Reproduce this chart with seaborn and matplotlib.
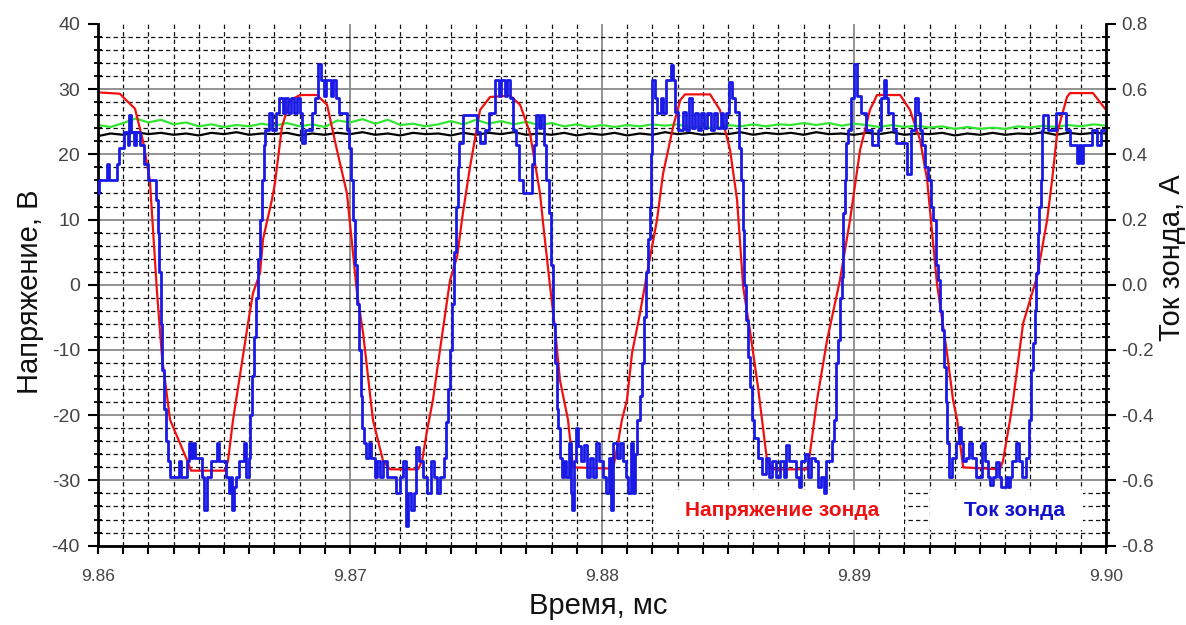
import matplotlib
matplotlib.use("Agg")
import matplotlib.pyplot as plt
from matplotlib.ticker import MultipleLocator
from matplotlib.patches import Rectangle
import seaborn as sns

# --- probe voltage (V), red trace ---
t_volt = [9.86000, 9.86087, 9.86107, 9.86147, 9.86179, 9.86206, 9.86234, 9.86254,
          9.86286, 9.86357, 9.86369, 9.86504, 9.86516, 9.86536, 9.86563, 9.86595,
          9.86615, 9.86643, 9.86655, 9.86690, 9.86702, 9.86730, 9.86762, 9.86802,
          9.86869, 9.86909, 9.86948, 9.86988, 9.87028, 9.87052, 9.87091, 9.87131,
          9.87159, 9.87270, 9.87286, 9.87306, 9.87329, 9.87357, 9.87397, 9.87425,
          9.87448, 9.87476, 9.87516, 9.87556, 9.87635, 9.87675, 9.87714, 9.87754,
          9.87766, 9.87794, 9.87813, 9.87833, 9.87865, 9.87885, 9.88044, 9.88063,
          9.88079, 9.88099, 9.88119, 9.88151, 9.88179, 9.88218, 9.88242, 9.88282,
          9.88310, 9.88329, 9.88429, 9.88468, 9.88508, 9.88536, 9.88560, 9.88587,
          9.88619, 9.88655, 9.88675, 9.88814, 9.88821, 9.88853, 9.88893, 9.88944,
          9.88984, 9.89024, 9.89063, 9.89091, 9.89183, 9.89222, 9.89262, 9.89290,
          9.89329, 9.89369, 9.89393, 9.89409, 9.89433, 9.89579, 9.89591, 9.89619,
          9.89631, 9.89671, 9.89726, 9.89766, 9.89786, 9.89806, 9.89845, 9.89857,
          9.89948, 9.90000]
volt = [29.5, 29.3, 28.5, 27.0, 22.0, 16.0, -1.0, -11.0,
        -20.7, -27.2, -28.5, -28.5, -27.0, -20.7, -14.0, -6.0,
        -1.3, 1.8, 7.0, 13.0, 15.5, 24.2, 28.3, 29.1,
        29.1, 27.6, 20.7, 14.0, -1.3, -7.4, -20.7, -27.0,
        -28.3, -28.3, -27.0, -22.3, -17.7, -10.0, 0.7, 4.3,
        11.0, 18.0, 26.8, 28.8, 29.0, 27.6, 23.3, 14.0,
        9.5, -0.3, -6.5, -14.6, -20.7, -28.0, -28.2, -24.3,
        -20.7, -17.7, -10.5, -4.3, 1.8, 9.9, 17.0, 24.2,
        28.3, 29.2, 29.2, 26.8, 20.7, 13.0, -0.3, -7.0,
        -15.7, -27.0, -28.3, -28.3, -27.0, -17.7, -8.5, 0.7,
        9.9, 20.7, 26.8, 29.1, 29.1, 26.8, 22.2, 16.1,
        0.2, -10.5, -17.7, -20.7, -28.0, -28.3, -27.0, -20.7,
        -17.7, -5.9, 1.2, 9.9, 16.1, 23.3, 28.8, 29.4,
        29.4, 26.8]

# --- probe current (A), blue trace, quantised steps ---
t_cur = [9.86000, 9.86004, 9.86036, 9.86044, 9.86075, 9.86083, 9.86103, 9.86119,
         9.86123, 9.86131, 9.86143, 9.86151, 9.86167, 9.86183, 9.86198, 9.86230,
         9.86238, 9.86244, 9.86250, 9.86256, 9.86262, 9.86270, 9.86278, 9.86286,
         9.86321, 9.86329, 9.86353, 9.86361, 9.86369, 9.86377, 9.86385, 9.86413,
         9.86421, 9.86433, 9.86448, 9.86472, 9.86480, 9.86508, 9.86520, 9.86528,
         9.86532, 9.86540, 9.86548, 9.86560, 9.86579, 9.86587, 9.86599, 9.86605,
         9.86611, 9.86619, 9.86627, 9.86635, 9.86643, 9.86651, 9.86657, 9.86663,
         9.86679, 9.86690, 9.86706, 9.86718, 9.86734, 9.86742, 9.86754, 9.86766,
         9.86778, 9.86790, 9.86802, 9.86810, 9.86821, 9.86849, 9.86861, 9.86873,
         9.86885, 9.86897, 9.86905, 9.86925, 9.86933, 9.86944, 9.86956, 9.86988,
         9.86996, 9.87004, 9.87012, 9.87020, 9.87028, 9.87036, 9.87042, 9.87048,
         9.87056, 9.87063, 9.87075, 9.87083, 9.87099, 9.87107, 9.87119, 9.87131,
         9.87147, 9.87183, 9.87198, 9.87210, 9.87222, 9.87230, 9.87242, 9.87254,
         9.87262, 9.87274, 9.87290, 9.87306, 9.87321, 9.87333, 9.87345, 9.87357,
         9.87373, 9.87381, 9.87389, 9.87397, 9.87405, 9.87413, 9.87421, 9.87429,
         9.87433, 9.87448, 9.87504, 9.87516, 9.87536, 9.87552, 9.87575, 9.87591,
         9.87599, 9.87615, 9.87623, 9.87635, 9.87647, 9.87659, 9.87671, 9.87687,
         9.87722, 9.87730, 9.87738, 9.87750, 9.87758, 9.87770, 9.87778, 9.87790,
         9.87798, 9.87806, 9.87813, 9.87821, 9.87825, 9.87833, 9.87841, 9.87849,
         9.87857, 9.87869, 9.87877, 9.87881, 9.87889, 9.87897, 9.87905, 9.87917,
         9.87929, 9.87940, 9.87952, 9.87964, 9.87976, 9.87988, 9.88004, 9.88016,
         9.88028, 9.88036, 9.88044, 9.88060, 9.88071, 9.88083, 9.88095, 9.88103,
         9.88115, 9.88123, 9.88131, 9.88139, 9.88151, 9.88159, 9.88167, 9.88175,
         9.88183, 9.88190, 9.88194, 9.88198, 9.88210, 9.88218, 9.88234, 9.88242,
         9.88254, 9.88274, 9.88282, 9.88290, 9.88302, 9.88321, 9.88333, 9.88345,
         9.88357, 9.88369, 9.88381, 9.88393, 9.88405, 9.88417, 9.88433, 9.88444,
         9.88456, 9.88472, 9.88480, 9.88492, 9.88504, 9.88516, 9.88528, 9.88544,
         9.88552, 9.88560, 9.88565, 9.88571, 9.88579, 9.88587, 9.88595, 9.88603,
         9.88619, 9.88635, 9.88651, 9.88663, 9.88675, 9.88690, 9.88706, 9.88722,
         9.88730, 9.88742, 9.88770, 9.88782, 9.88790, 9.88806, 9.88817, 9.88829,
         9.88845, 9.88857, 9.88869, 9.88881, 9.88889, 9.88913, 9.88921, 9.88929,
         9.88937, 9.88944, 9.88952, 9.88956, 9.88964, 9.88968, 9.88976, 9.88988,
         9.89000, 9.89012, 9.89028, 9.89048, 9.89071, 9.89095, 9.89107, 9.89119,
         9.89127, 9.89135, 9.89155, 9.89167, 9.89210, 9.89226, 9.89242, 9.89254,
         9.89262, 9.89270, 9.89282, 9.89294, 9.89306, 9.89313, 9.89325, 9.89333,
         9.89341, 9.89349, 9.89357, 9.89365, 9.89369, 9.89377, 9.89389, 9.89405,
         9.89417, 9.89425, 9.89433, 9.89444, 9.89456, 9.89468, 9.89484, 9.89508,
         9.89520, 9.89532, 9.89540, 9.89552, 9.89563, 9.89575, 9.89583, 9.89603,
         9.89611, 9.89619, 9.89627, 9.89643, 9.89655, 9.89667, 9.89683, 9.89694,
         9.89702, 9.89710, 9.89718, 9.89722, 9.89730, 9.89734, 9.89742, 9.89746,
         9.89750, 9.89770, 9.89802, 9.89841, 9.89857, 9.89885, 9.89893, 9.89901,
         9.89909, 9.89944, 9.89964, 9.89980, 9.90000]
cur = [0.280, 0.320, 0.370, 0.320, 0.370, 0.420, 0.470, 0.430,
       0.520, 0.470, 0.430, 0.470, 0.430, 0.370, 0.320, 0.260,
       0.160, 0.040, -0.120, -0.260, -0.380, -0.480, -0.540, -0.588,
       -0.540, -0.588, -0.540, -0.486, -0.530, -0.486, -0.530, -0.588,
       -0.690, -0.588, -0.540, -0.486, -0.540, -0.588, -0.640, -0.588,
       -0.690, -0.620, -0.588, -0.540, -0.486, -0.588, -0.530, -0.400,
       -0.280, -0.160, -0.040, 0.080, 0.200, 0.320, 0.430, 0.474,
       0.526, 0.474, 0.526, 0.572, 0.526, 0.572, 0.526, 0.572,
       0.526, 0.572, 0.526, 0.434, 0.474, 0.526, 0.572, 0.676,
       0.628, 0.580, 0.628, 0.580, 0.628, 0.572, 0.526, 0.474,
       0.420, 0.320, 0.200, 0.060, -0.060, -0.200, -0.340, -0.440,
       -0.486, -0.530, -0.486, -0.530, -0.588, -0.540, -0.588, -0.540,
       -0.588, -0.640, -0.588, -0.540, -0.740, -0.640, -0.690, -0.640,
       -0.498, -0.540, -0.588, -0.640, -0.540, -0.588, -0.640, -0.588,
       -0.530, -0.420, -0.320, -0.200, -0.060, 0.100, 0.240, 0.360,
       0.434, 0.522, 0.470, 0.434, 0.474, 0.526, 0.628, 0.580,
       0.628, 0.580, 0.628, 0.572, 0.474, 0.430, 0.320, 0.280,
       0.370, 0.430, 0.520, 0.480, 0.520, 0.430, 0.320, 0.220,
       0.060, -0.120, -0.240, -0.380, -0.440, -0.530, -0.588, -0.540,
       -0.588, -0.486, -0.640, -0.690, -0.540, -0.440, -0.494, -0.540,
       -0.490, -0.588, -0.530, -0.588, -0.486, -0.540, -0.588, -0.640,
       -0.530, -0.690, -0.486, -0.530, -0.486, -0.540, -0.588, -0.640,
       -0.486, -0.640, -0.520, -0.414, -0.340, -0.240, -0.100, 0.040,
       0.140, 0.240, 0.400, 0.628, 0.572, 0.526, 0.572, 0.526,
       0.628, 0.674, 0.628, 0.530, 0.474, 0.530, 0.474, 0.572,
       0.480, 0.526, 0.474, 0.526, 0.480, 0.526, 0.474, 0.526,
       0.480, 0.526, 0.480, 0.526, 0.622, 0.572, 0.530, 0.420,
       0.320, 0.168, 0.000, -0.108, -0.220, -0.314, -0.414, -0.470,
       -0.532, -0.580, -0.530, -0.588, -0.540, -0.588, -0.540, -0.588,
       -0.492, -0.540, -0.588, -0.620, -0.540, -0.520, -0.588, -0.530,
       -0.540, -0.620, -0.588, -0.640, -0.540, -0.480, -0.414, -0.240,
       -0.170, -0.040, 0.024, 0.220, 0.320, 0.434, 0.474, 0.572,
       0.676, 0.580, 0.526, 0.474, 0.428, 0.474, 0.572, 0.628,
       0.572, 0.526, 0.474, 0.434, 0.340, 0.474, 0.572, 0.526,
       0.474, 0.430, 0.360, 0.320, 0.240, 0.198, 0.060, 0.014,
       -0.080, -0.140, -0.252, -0.360, -0.486, -0.588, -0.530, -0.486,
       -0.436, -0.486, -0.540, -0.530, -0.486, -0.530, -0.588, -0.486,
       -0.540, -0.588, -0.614, -0.588, -0.544, -0.588, -0.620, -0.588,
       -0.620, -0.588, -0.540, -0.486, -0.540, -0.588, -0.530, -0.414,
       -0.260, -0.180, -0.078, 0.036, 0.158, 0.240, 0.320, 0.474,
       0.520, 0.474, 0.526, 0.474, 0.430, 0.374, 0.430, 0.374,
       0.430, 0.474, 0.430, 0.474, 0.474]

# --- two nearly flat reference traces (V) ---
t_ref = [9.8600, 9.8605, 9.8610, 9.8615, 9.8620, 9.8625, 9.8630, 9.8635, 9.8640,
         9.8645, 9.8650, 9.8655, 9.8660, 9.8665, 9.8670, 9.8675, 9.8680, 9.8685,
         9.8690, 9.8695, 9.8700, 9.8705, 9.8710, 9.8715, 9.8720, 9.8725, 9.8730,
         9.8735, 9.8740, 9.8745, 9.8750, 9.8755, 9.8760, 9.8765, 9.8770, 9.8775,
         9.8780, 9.8785, 9.8790, 9.8795, 9.8800, 9.8805, 9.8810, 9.8815, 9.8820,
         9.8825, 9.8830, 9.8835, 9.8840, 9.8845, 9.8850, 9.8855, 9.8860, 9.8865,
         9.8870, 9.8875, 9.8880, 9.8885, 9.8890, 9.8895, 9.8900, 9.8905, 9.8910,
         9.8915, 9.8920, 9.8925, 9.8930, 9.8935, 9.8940, 9.8945, 9.8950, 9.8955,
         9.8960, 9.8965, 9.8970, 9.8975, 9.8980, 9.8985, 9.8990, 9.8995, 9.9000]
green = [24.5, 24.2, 24.8, 25.5, 24.9, 25.3, 24.6, 24.9, 24.3,
         24.6, 24.2, 24.5, 24.3, 24.7, 24.4, 24.8, 24.3, 24.6,
         24.2, 25.2, 24.9, 25.4, 24.7, 25.3, 24.5, 24.7, 24.3,
         24.6, 25.1, 24.6, 25.3, 24.7, 25.1, 24.6, 25.0, 24.5,
         24.8, 24.3, 24.6, 24.2, 24.5, 24.2, 24.5, 24.3, 24.6,
         24.4, 24.6, 24.1, 24.3, 24.0, 24.5, 24.3, 24.6, 24.3,
         24.6, 24.5, 24.8, 24.5, 24.8, 24.4, 24.7, 24.5, 24.2,
         24.5, 24.2, 24.4, 24.1, 24.3, 23.9, 24.2, 23.9, 24.1,
         23.9, 24.3, 24.1, 24.4, 24.2, 24.5, 24.3, 24.6, 24.4]
black = [22.8, 23.2, 23.0, 23.4, 23.1, 23.3, 23.0, 23.2, 22.9,
         23.3, 23.1, 23.4, 23.0, 23.2, 23.1, 23.3, 22.9, 23.2,
         23.0, 23.3, 23.1, 23.4, 23.0, 23.2, 22.9, 23.3, 23.1,
         23.2, 22.9, 23.3, 23.0, 23.3, 23.1, 23.4, 23.0, 23.2,
         23.0, 23.3, 22.9, 23.2, 23.0, 23.3, 22.9, 23.2, 23.0,
         23.4, 23.1, 23.3, 23.0, 23.2, 23.1, 23.4, 23.0, 23.3,
         23.1, 23.3, 23.0, 23.4, 23.1, 23.2, 23.0, 23.3, 23.1,
         23.4, 23.0, 23.2, 23.1, 23.3, 22.9, 23.2, 23.0, 23.3,
         23.0, 23.2, 23.1, 23.4, 23.0, 23.3, 23.1, 23.3, 23.2]

x_ticks = [9.86, 9.87, 9.88, 9.89, 9.90]
x_labels = ["9.86", "9.87", "9.88", "9.89", "9.90"]
v_ticks = [-40, -30, -20, -10, 0, 10, 20, 30, 40]
a_ticks = [-0.8, -0.6, -0.4, -0.2, 0.0, 0.2, 0.4, 0.6, 0.8]

# style
sns.set_theme(style="white")
plt.rcParams["font.family"] = ["Liberation Sans", "DejaVu Sans"]
plt.rcParams["axes.unicode_minus"] = False

fig = plt.figure(figsize=(11.86, 6.25), dpi=100)
ax = fig.add_axes([0.0826, 0.127, 0.850, 0.8347])
ax2 = ax.twinx()

# traces
sns.lineplot(x=t_ref, y=green, ax=ax, color="#33e633", lw=1.6, estimator=None, sort=False, legend=False)
sns.lineplot(x=t_ref, y=black, ax=ax, color="black", lw=1.6, estimator=None, sort=False, legend=False)
sns.lineplot(x=t_volt, y=volt, ax=ax, color="#f01010", lw=1.6, estimator=None, sort=False, legend=False)
sns.lineplot(x=t_cur, y=cur, ax=ax2, color="#1a1ae6", lw=2.0, estimator=None, sort=False,
             legend=False, drawstyle="steps-post", zorder=3)

# axes limits & ticks
ax.set_xlim(9.86, 9.90)
ax.set_ylim(-40, 40)
ax2.set_ylim(-0.8, 0.8)
ax.set_xticks(x_ticks)
ax.set_xticklabels(x_labels)
ax.xaxis.set_minor_locator(MultipleLocator(0.001))
ax.set_yticks(v_ticks)
ax.yaxis.set_minor_locator(MultipleLocator(2))
ax2.set_yticks(a_ticks)
ax2.set_yticklabels([f"{a:.1f}" for a in a_ticks])
ax2.yaxis.set_minor_locator(MultipleLocator(0.04))
ax.set_xlabel("")
ax.set_ylabel("")
ax2.set_ylabel("")

# grid: solid grey majors, dashed black minors
ax.set_axisbelow(True)
ax.grid(which="major", color="#8a8a8a", lw=1.3, ls="-")
ax.grid(which="minor", color="#111111", lw=0.9, ls=(0, (3.5, 2.5)))
ax2.grid(False)
ax.yaxis.get_major_ticks()[-1].gridline.set_visible(False)

# spines
for s in ["top", "right"]:
    ax.spines[s].set_visible(False)
for s in ["top", "left", "bottom"]:
    ax2.spines[s].set_visible(False)
for s in ["left", "bottom"]:
    ax.spines[s].set_color("black")
    ax.spines[s].set_linewidth(2)
ax2.spines["right"].set_color("black")
ax2.spines["right"].set_linewidth(2)

tick_grey = "#444444"
ax.tick_params(axis="x", which="major", bottom=True, direction="out", length=6, width=1.5,
               color="black", labelsize=12.5, labelcolor=tick_grey, pad=11)
ax.tick_params(axis="x", which="minor", bottom=True, direction="out", length=6, width=1.5, color="black")
ax.tick_params(axis="y", which="major", left=True, direction="out", length=7, width=1.5,
               color="black", labelsize=14, labelcolor=tick_grey, pad=6)
ax.tick_params(axis="y", which="minor", left=True, direction="inout", length=6, width=1.3, color="black")
ax2.tick_params(axis="y", which="major", right=True, direction="out", length=7, width=1.5,
                color="black", labelsize=13.5, labelcolor=tick_grey, pad=4)
ax2.tick_params(axis="y", which="minor", right=True, direction="inout", length=6, width=1.3, color="black")

# in-plot legend boxes
ax2.add_patch(Rectangle((0.552, 0.030), 0.248, 0.077, transform=ax2.transAxes,
                        facecolor="white", edgecolor="none", zorder=1))
ax2.add_patch(Rectangle((0.825, 0.030), 0.152, 0.077, transform=ax2.transAxes,
                        facecolor="white", edgecolor="none", zorder=1))
ax2.text(0.679, 0.068, "Напряжение зонда", transform=ax2.transAxes, color="#ee1111",
         fontsize=15, fontweight="bold", ha="center", va="center", zorder=4)
ax2.text(0.909, 0.068, "Ток зонда", transform=ax2.transAxes, color="#1111cc",
         fontsize=15, fontweight="bold", ha="center", va="center", zorder=4)

# axis titles
fig.text(30 / 1186, 1 - 292 / 625, "Напряжение, В", rotation=90, ha="center", va="center",
         fontsize=21, color="#111111")
fig.text(1172 / 1186, 1 - 258 / 625, "Ток зонда, А", rotation=90, ha="center", va="center",
         fontsize=21, color="#111111")
fig.text(598 / 1186, 1 - 606 / 625, "Время, мс", ha="center", va="center",
         fontsize=21, color="#111111")

fig.savefig("out.png", dpi=100, facecolor="white")
